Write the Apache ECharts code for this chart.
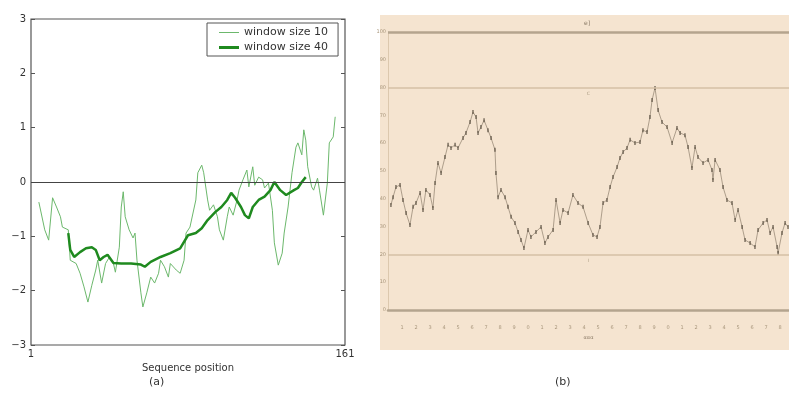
<!DOCTYPE html>
<html>
<head>
<meta charset="utf-8">
<title>Sequence profile</title>
<script src="https://cdn.jsdelivr.net/npm/echarts@6/dist/echarts.min.js"></script>
<style>
  html, body { margin: 0; padding: 0; background: #fff; }
  #chart { width: 789px; height: 394px; }
</style>
</head>
<body>
<div id="chart"></div>
<script>
// panel (a): sliding-window profiles, [position, value]
const win10 = [
  [5,-0.37],[8,-0.88],[10,-1.07],[12,-0.29],[14,-0.46],[16,-0.64],[17,-0.83],[20,-0.88],
  [21,-1.44],[24,-1.5],[26,-1.68],[28,-1.93],[30,-2.21],[32,-1.9],[34,-1.62],[35,-1.44],
  [37,-1.86],[39,-1.5],[41,-1.38],[43,-1.5],[44,-1.66],[46,-1.2],[47,-0.46],[48,-0.18],
  [49,-0.64],[51,-0.88],[53,-1.03],[54,-0.94],[55,-1.44],[57,-2.04],[58,-2.3],[60,-2.04],
  [62,-1.75],[64,-1.86],[66,-1.68],[67,-1.44],[69,-1.56],[71,-1.75],[72,-1.5],[75,-1.62],
  [77,-1.68],[79,-1.44],[80,-0.94],[82,-0.83],[85,-0.33],[86,0.17],[88,0.31],[89,0.17],
  [91,-0.33],[92,-0.52],[94,-0.42],[96,-0.64],[97,-0.88],[99,-1.07],[101,-0.64],[102,-0.46],
  [104,-0.61],[106,-0.33],[107,-0.15],[109,0.04],[111,0.22],[112,-0.09],[114,0.28],[115,-0.06],
  [117,0.09],[119,0.04],[120,-0.11],[122,-0.02],[124,-0.52],[125,-1.12],[127,-1.53],[129,-1.31],
  [130,-0.94],[132,-0.46],[134,0.17],[136,0.64],[137,0.72],[139,0.5],[140,0.96],[141,0.77],
  [142,0.28],[144,-0.09],[145,-0.15],[147,0.07],[148,-0.15],[150,-0.61],[152,-0.02],[153,0.72],
  [155,0.83],[156,1.2]
];
const win40 = [
  [20,-0.94],[21,-1.25],[23,-1.38],[26,-1.29],[29,-1.22],[32,-1.2],[34,-1.25],[36,-1.44],
  [38,-1.38],[40,-1.34],[43,-1.49],[47,-1.5],[52,-1.5],[57,-1.52],[59,-1.56],[62,-1.47],
  [67,-1.38],[72,-1.31],[77,-1.22],[81,-0.98],[85,-0.94],[88,-0.85],[91,-0.7],[95,-0.55],
  [98,-0.46],[101,-0.33],[103,-0.2],[105,-0.29],[108,-0.46],[110,-0.61],[112,-0.67],[114,-0.46],
  [117,-0.33],[120,-0.27],[123,-0.15],[125,0],[128,-0.15],[131,-0.24],[135,-0.15],[137,-0.11],
  [139,0],[141,0.09]
];
const xEndsA = [1, 161];

// panel (b): trace, [x, y]
const traceB = [
  [0.21,37.8],[0.36,40.6],[0.57,44.2],[0.86,45.0],[1.07,39.6],[1.29,34.9],[1.57,30.6],[1.79,37.1],
  [2.00,38.5],[2.29,42.1],[2.50,36.0],[2.71,43.2],[3.00,41.4],[3.21,36.7],[3.36,45.7],[3.57,52.9],
  [3.79,49.3],[4.07,55.0],[4.29,59.4],[4.50,58.3],[4.79,59.4],[5.00,58.3],[5.36,61.9],[5.57,63.7],
  [5.86,67.6],[6.07,71.2],[6.29,69.4],[6.43,63.7],[6.64,65.8],[6.86,68.3],[7.14,64.7],[7.36,61.9],
  [7.64,57.6],[7.71,49.3],[7.86,40.6],[8.07,43.2],[8.36,40.6],[8.57,37.1],[8.79,33.5],[9.07,31.3],
  [9.29,28.1],[9.50,25.2],[9.71,22.3],[10.00,28.8],[10.21,26.3],[10.57,28.1],[10.93,29.9],[11.21,24.1],
  [11.43,26.3],[11.79,28.8],[12.00,39.6],[12.29,31.3],[12.50,36.0],[12.86,34.9],[13.21,41.4],[13.57,38.5],
  [13.93,37.1],[14.29,31.3],[14.64,27.0],[14.93,26.3],[15.14,29.9],[15.36,38.5],[15.64,39.6],[15.86,44.2],
  [16.07,47.8],[16.36,51.4],[16.57,54.7],[16.79,56.8],[17.07,58.3],[17.29,61.2],[17.64,60.1],[18.00,60.4],
  [18.21,64.7],[18.50,64.0],[18.71,69.4],[18.86,75.5],[19.07,79.9],[19.29,71.9],[19.57,67.6],[19.93,65.8],
  [20.29,60.1],[20.64,65.5],[20.86,63.7],[21.21,62.9],[21.43,58.6],[21.71,51.1],[21.93,58.6],[22.14,55.0],
  [22.50,52.9],[22.86,54.0],[23.14,50.4],[23.21,46.8],[23.36,54.0],[23.71,50.4],[23.93,44.2],[24.21,39.6],
  [24.57,38.5],[24.79,32.4],[25.00,36.0],[25.29,29.9],[25.50,25.2],[25.86,24.1],[26.21,22.7],[26.43,28.8],
  [26.79,31.3],[27.07,32.4],[27.29,27.7],[27.50,29.9],[27.79,22.7],[27.86,20.5],[28.14,27.7],[28.36,31.3],
  [28.57,29.9]
];
const refLinesB = [20, 80];

const chart = echarts.init(document.getElementById('chart'));
const font = 'DejaVu Sans';
const beigeText = '#a8967c';
const thinGreen = '#6cb86c';
const thickGreen = '#1f8a1f';

chart.setOption({
  backgroundColor: '#fff',
  animation: false,
  textStyle: { fontFamily: font },
  graphic: [
    { type: 'rect', z: -10, shape: { x: 380, y: 15, width: 409, height: 335 }, style: { fill: '#f5e4d0' } },
    { type: 'text', left: 149, top: 377, style: { text: '(a)', fontSize: 11, fontFamily: font, fill: '#333' } },
    { type: 'text', left: 555, top: 377, style: { text: '(b)', fontSize: 11, fontFamily: font, fill: '#333' } },
    { type: 'text', left: 584, top: 20, style: { text: 'e]', fontSize: 6, fontFamily: font, fill: '#8a7a66' } }
  ],
  legend: {
    data: [
      { name: 'window size 10', icon: 'path://M0,0h20v1h-20z', itemStyle: { color: thinGreen } },
      { name: 'window size 40', icon: 'path://M0,0h20v3h-20z', itemStyle: { color: thickGreen } }
    ],
    left: 207, top: 23,
    orient: 'vertical',
    itemGap: 4, itemWidth: 20, itemHeight: 11,
    padding: [4, 10, 3, 12],
    borderColor: '#555', borderWidth: 1,
    backgroundColor: '#fff',
    textStyle: { fontSize: 11, color: '#333', fontFamily: font }
  },
  grid: [
    { left: 31, top: 19, width: 314, bottom: 49, show: true, borderColor: '#555', borderWidth: 1.2, backgroundColor: '#fff' },
    { left: 388, top: 32, right: 0, bottom: 84 }
  ],
  xAxis: [
    {
      gridIndex: 0, type: 'value', min: 1, max: 161,
      axisLine: { show: false }, axisTick: { show: false }, splitLine: { show: false },
      axisLabel: { customValues: xEndsA, fontSize: 10, color: '#333', margin: 4 },
      name: 'Sequence position', nameLocation: 'middle', nameGap: 15,
      nameTextStyle: { fontSize: 10, color: '#333' }
    },
    {
      gridIndex: 1, type: 'value', min: 0, max: 28.64, interval: 1,
      axisLine: { show: true, lineStyle: { color: '#b4a48e', width: 2.5 } },
      axisTick: { show: false }, splitLine: { show: false },
      axisLabel: {
        fontSize: 5, color: beigeText, margin: 15, showMaxLabel: false,
        formatter: v => (Number.isInteger(v) && v > 0 ? String(v % 10) : '')
      },
      name: 'ααα', nameLocation: 'middle', nameGap: 23,
      nameTextStyle: { fontSize: 5, color: '#8a7a66' }
    }
  ],
  yAxis: [
    {
      gridIndex: 0, type: 'value', min: -3, max: 3, interval: 1,
      axisLine: { show: false }, splitLine: { show: false },
      axisTick: { inside: true, length: 4, lineStyle: { color: '#555' } },
      axisLabel: { fontSize: 10, color: '#333', margin: 5, formatter: v => String(v).replace('-', '\u2212') }
    },
    {
      gridIndex: 0, type: 'value', min: -3, max: 3, interval: 1, position: 'right',
      axisLine: { show: false }, splitLine: { show: false }, axisLabel: { show: false },
      axisTick: { inside: true, length: 4, lineStyle: { color: '#555' } }
    },
    {
      gridIndex: 1, type: 'value', min: 0, max: 100, interval: 10,
      axisLine: { show: true, lineStyle: { color: '#dcc8ae', width: 1 } },
      axisTick: { show: false }, splitLine: { show: false },
      axisLabel: { fontSize: 5, color: beigeText, margin: 2 }
    }
  ],
  series: [
    {
      name: 'window size 10', type: 'line', xAxisIndex: 0, yAxisIndex: 0,
      data: win10, symbol: 'none', smooth: false,
      lineStyle: { color: thinGreen, width: 1 }, itemStyle: { color: thinGreen },
      markLine: {
        silent: true, symbol: 'none', label: { show: false },
        lineStyle: { color: '#444', width: 1.2, type: 'solid' },
        data: [{ yAxis: 0 }]
      }
    },
    {
      name: 'window size 40', type: 'line', xAxisIndex: 0, yAxisIndex: 0,
      data: win40, symbol: 'none',
      lineStyle: { color: thickGreen, width: 2.5 }, itemStyle: { color: thickGreen }
    },
    {
      name: 'trace', type: 'line', xAxisIndex: 1, yAxisIndex: 2,
      data: traceB, symbol: 'rect', symbolSize: [1.2, 4], showSymbol: true,
      lineStyle: { color: '#9a8c78', width: 0.8 }, itemStyle: { color: '#5e5344' },
      markLine: {
        silent: true, symbol: 'none',
        data: [
          { yAxis: refLinesB[0], label: { formatter: 'ı' } },
          { yAxis: refLinesB[1], label: { formatter: 'c' } },
          { yAxis: 100, label: { show: false }, lineStyle: { color: '#b4a48e', width: 2.5 } }
        ],
        label: { position: 'insideMiddleBottom', fontSize: 6, color: '#b8a890', distance: 3 },
        lineStyle: { color: '#d4c0a6', width: 1.5, type: 'solid' }
      }
    }
  ]
});
</script>
</body>
</html>
